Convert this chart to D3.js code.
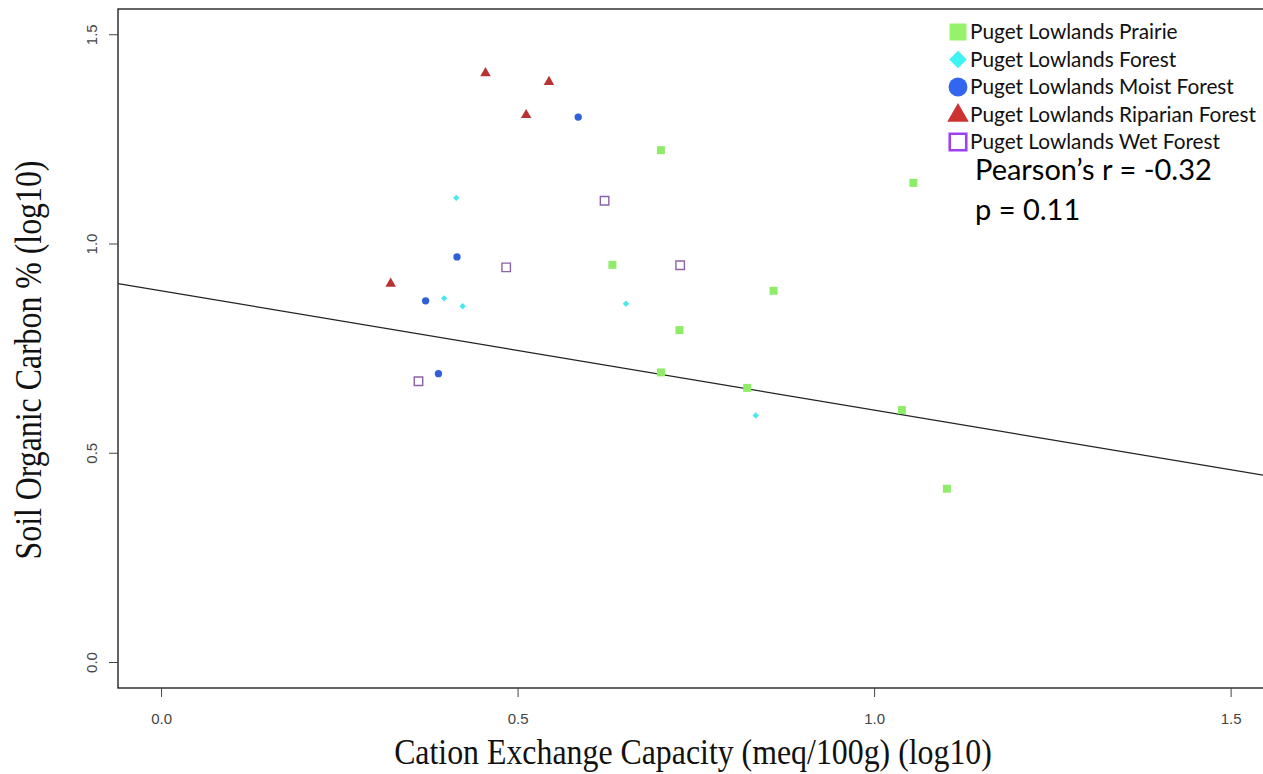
<!DOCTYPE html>
<html>
<head>
<meta charset="utf-8">
<script src="https://cdn.jsdelivr.net/npm/d3@7"></script>
<style>
  html, body { margin: 0; padding: 0; background: #fff; }
  svg { display: block; }
</style>
</head>
<body>
<svg id="chart" width="1263" height="774"></svg>
<script>
// Soil organic carbon vs. cation exchange capacity, both log10, by vegetation type
const groups = [
  "Puget Lowlands Prairie",
  "Puget Lowlands Forest",
  "Puget Lowlands Moist Forest",
  "Puget Lowlands Riparian Forest",
  "Puget Lowlands Wet Forest"
];

const prairieCEC = [0.701, 1.055, 0.633, 0.859, 0.727, 0.701, 0.822, 1.039, 1.102];
const prairieSOC = [1.223, 1.145, 0.949, 0.887, 0.793, 0.692, 0.655, 0.602, 0.414];

const forestCEC = [0.414, 0.397, 0.423, 0.652, 0.834];
const forestSOC = [1.109, 0.869, 0.850, 0.856, 0.589];

const moistCEC = [0.585, 0.415, 0.371, 0.389];
const moistSOC = [1.302, 0.968, 0.863, 0.689];

const riparianCEC = [0.455, 0.544, 0.512, 0.322];
const riparianSOC = [1.407, 1.386, 1.307, 0.904];

const wetCEC = [0.622, 0.484, 0.728, 0.361];
const wetSOC = [1.102, 0.943, 0.948, 0.671];

// least-squares fit line: SOC = intercept + slope * CEC
const fitIntercept = 0.887;
const fitSlope = -0.285;

const xTicks = [0.0, 0.5, 1.0, 1.5];
const yTicks = [0.0, 0.5, 1.0, 1.5];

const statLines = ["Pearson\u2019s r = -0.32", "p = 0.11"];

const series = [
  { name: groups[0], cec: prairieCEC,  soc: prairieSOC,  shape: "square",   fill: "#8fec68", stroke: "none" },
  { name: groups[1], cec: forestCEC,   soc: forestSOC,   shape: "diamond",  fill: "#48e8f0", stroke: "none" },
  { name: groups[2], cec: moistCEC,    soc: moistSOC,    shape: "circle",   fill: "#2f60d8", stroke: "none" },
  { name: groups[3], cec: riparianCEC, soc: riparianSOC, shape: "triangle", fill: "#b93333", stroke: "none" },
  { name: groups[4], cec: wetCEC,      soc: wetSOC,      shape: "open",     fill: "none",    stroke: "#8c62aa" }
];

const legendColors = ["#96f26a", "#3ff2f4", "#3366f0", "#cc3333", "#a040f6"];

const svg = d3.select("#chart");

const frame = { left: 118, top: 9, bottom: 688, right: 1340 };

const x = d3.scaleLinear().domain([-0.0604, 1.6534]).range([frame.left, frame.right]);
const y = d3.scaleLinear().domain([-0.0621, 1.5603]).range([frame.bottom, frame.top]);

// plot box (right edge runs past the canvas)
svg.append("rect")
  .attr("x", frame.left).attr("y", frame.top)
  .attr("width", frame.right - frame.left).attr("height", frame.bottom - frame.top)
  .attr("fill", "none").attr("stroke", "#111").attr("stroke-width", 1.3);

// axes
const xAxis = d3.axisBottom(x).tickValues(xTicks).tickFormat(d3.format(".1f")).tickSize(9).tickPadding(16);
const yAxis = d3.axisLeft(y).tickValues(yTicks).tickFormat(d3.format(".1f")).tickSize(9).tickPadding(0);

const gx = svg.append("g").attr("transform", `translate(0,${frame.bottom})`).call(xAxis);
gx.select(".domain").remove();
gx.selectAll(".tick line").attr("stroke", "#444");
gx.selectAll(".tick text")
  .attr("font-family", "Liberation Sans, Arial, sans-serif")
  .attr("font-size", 15).attr("fill", "#444");

const gy = svg.append("g").attr("transform", `translate(${frame.left},0)`).call(yAxis);
gy.select(".domain").remove();
gy.selectAll(".tick line").attr("stroke", "#444");
gy.selectAll(".tick text")
  .attr("font-family", "Liberation Sans, Arial, sans-serif")
  .attr("font-size", 15).attr("fill", "#444")
  .attr("text-anchor", "middle")
  .attr("dy", null)
  .attr("x", null)
  .attr("transform", "translate(-21,0) rotate(-90)");

// axis titles (tall, narrow serif lettering)
svg.append("text")
  .attr("transform", "translate(693,764) scale(0.91,1)")
  .attr("text-anchor", "middle")
  .attr("font-family", "Liberation Serif, Times New Roman, serif")
  .attr("font-size", 35).attr("fill", "#111")
  .text("Cation Exchange Capacity (meq/100g) (log10)");

svg.append("text")
  .attr("transform", "translate(41,360) rotate(-90) scale(0.86,1)")
  .attr("text-anchor", "middle")
  .attr("font-family", "Liberation Serif, Times New Roman, serif")
  .attr("font-size", 37).attr("fill", "#111")
  .text("Soil Organic Carbon % (log10)");

// clip the fit line to the plot box
svg.append("clipPath").attr("id", "plotClip")
  .append("rect")
  .attr("x", frame.left).attr("y", frame.top)
  .attr("width", frame.right - frame.left).attr("height", frame.bottom - frame.top);

const fitX = x.domain();
svg.append("line")
  .attr("clip-path", "url(#plotClip)")
  .attr("x1", x(fitX[0])).attr("y1", y(fitIntercept + fitSlope * fitX[0]))
  .attr("x2", x(fitX[1])).attr("y2", y(fitIntercept + fitSlope * fitX[1]))
  .attr("stroke", "#222").attr("stroke-width", 1.2);

// marker shapes
const symbolFor = {
  square: d3.symbol().type(d3.symbolSquare).size(64),
  diamond: d3.symbol().type(d3.symbolDiamond2).size(26),
  circle: d3.symbol().type(d3.symbolCircle).size(42),
  triangle: d3.symbol().type(d3.symbolTriangle).size(48),
  open: d3.symbol().type(d3.symbolSquare).size(72)
};

series.forEach(s => {
  const pts = s.cec.map((c, i) => ({ c, v: s.soc[i] }));
  svg.append("g").selectAll("path")
    .data(pts).join("path")
    .attr("transform", d => `translate(${x(d.c)},${y(d.v)})`)
    .attr("d", symbolFor[s.shape]())
    .attr("fill", s.fill)
    .attr("stroke", s.stroke)
    .attr("stroke-width", s.shape === "open" ? 1.4 : 0);
});

// legend
const legendSymbols = {
  square: d3.symbol().type(d3.symbolSquare).size(289),
  diamond: d3.symbol().type(d3.symbolDiamond2).size(200),
  circle: d3.symbol().type(d3.symbolCircle).size(280),
  triangle: d3.symbol().type(d3.symbolTriangle).size(200),
  open: d3.symbol().type(d3.symbolSquare).size(272)
};
const legendRowY = d3.scalePoint().domain(groups).range([32, 142]);
const leg = svg.append("g");
series.forEach((s, i) => {
  const cy = legendRowY(s.name);
  leg.append("path")
    .attr("transform", `translate(958,${cy + (s.shape === "triangle" ? 1 : 0)})`)
    .attr("d", legendSymbols[s.shape]())
    .attr("fill", s.shape === "open" ? "none" : legendColors[i])
    .attr("stroke", s.shape === "open" ? legendColors[i] : "none")
    .attr("stroke-width", 2.6);
  leg.append("text")
    .attr("x", 970).attr("y", cy + 7)
    .attr("font-family", "Lato, Open Sans, sans-serif")
    .attr("font-size", 20.8).attr("fill", "#111")
    .text(s.name);
});

// correlation statistics
statLines.forEach((t, i) => {
  svg.append("text")
    .attr("x", 975).attr("y", 180 + i * 40)
    .attr("font-family", "Lato, Open Sans, sans-serif")
    .attr("font-size", 29).attr("fill", "#000")
    .text(t);
});
</script>
</body>
</html>
